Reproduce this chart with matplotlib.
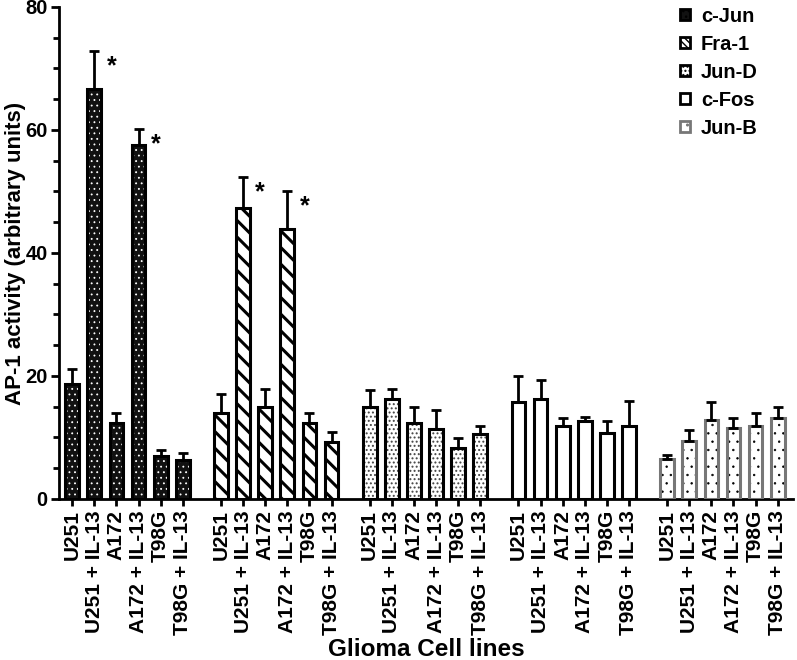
import numpy as np
import matplotlib
matplotlib.use("Agg")
import matplotlib.pyplot as plt
from matplotlib.patches import Patch

plt.rcParams['font.family'] = ['Liberation Sans', 'DejaVu Sans']
plt.rcParams['font.weight'] = 'bold'

cells = ["U251", "U251 + IL-13", "A172", "A172 + IL-13", "T98G", "T98G + IL-13"]
factors = ["c-Jun", "Fra-1", "Jun-D", "c-Fos", "Jun-B"]

cjun = [18.7, 66.6, 12.3, 57.6, 7.0, 6.3]
cjun_err = [2.5, 6.2, 1.6, 2.6, 1.0, 1.2]
fra1 = [13.9, 47.3, 14.9, 43.9, 12.3, 9.3]
fra1_err = [3.1, 5.1, 2.9, 6.2, 1.6, 1.6]
jund = [14.9, 16.2, 12.3, 11.3, 8.3, 10.6]
jund_err = [2.8, 1.7, 2.6, 3.2, 1.6, 1.2]
cfos = [15.8, 16.2, 11.9, 12.6, 10.8, 11.9]
cfos_err = [4.2, 3.2, 1.2, 0.7, 1.9, 4.1]
junb = [6.5, 9.5, 12.9, 11.5, 11.9, 13.2]
junb_err = [0.7, 1.7, 2.8, 1.7, 2.1, 1.7]

values = [cjun, fra1, jund, cfos, junb]
errors = [cjun_err, fra1_err, jund_err, cfos_err, junb_err]

# significant bars (factor index, cell index)
stars = [(0, 1), (0, 3), (1, 1), (1, 3)]

styles = [
    dict(face='#111111', hatch='...', leg='...', hc='white', edge='black', hlw=0.6),
    dict(face='white', hatch='\\\\', leg='\\\\\\\\\\', hc='black', edge='black', hlw=2.2),
    dict(face='white', hatch='....', leg='....', hc='#444444', edge='black', hlw=0.9),
    dict(face='white', hatch='', leg='', hc='black', edge='black', hlw=1.0),
    dict(face='white', hatch='..', leg='..', hc='black', edge='#777777', hlw=0.5),
]

fig = plt.figure(figsize=(7.97, 6.6), dpi=100)
ax = fig.add_axes([0.074, 0.244, 0.921, 0.7455])

group_step = 6.727
width = 0.62
ticks = []
handles = []
for g in range(len(factors)):
    x = g * group_step + np.arange(len(cells))
    ticks.extend(x)
    st = styles[g]
    with plt.rc_context({'hatch.linewidth': st['hlw']}):
        ax.bar(x, values[g], width, color=st['face'], hatch=st['hatch'],
               edgecolor=st['hc'], linewidth=0, zorder=2)
        handles.append(Patch(facecolor=st['face'], edgecolor=st['edge'], hatch=st['leg'],
                             linewidth=2, label=factors[g]))
    ax.bar(x, values[g], width, fill=False, edgecolor=st['edge'],
           linewidth=2.2, zorder=3)
    ax.errorbar(x, values[g], yerr=[np.zeros(6), errors[g]], fmt='none',
                ecolor='black', elinewidth=2, capsize=3.5, capthick=2, zorder=4)

for g, i in stars:
    x = g * group_step + i
    ax.text(x + 0.55, values[g][i] + errors[g][i] - 2.5, '*', fontsize=18,
            fontweight='bold', ha='left', va='center')

ax.set_xlim(-0.6, 32.6)
ax.set_ylim(0, 80)
ax.set_yticks([0, 20, 40, 60, 80])
ax.set_yticks(np.arange(0, 81, 5), minor=True)
ax.set_xticks(ticks)
ax.set_xticklabels(cells * len(factors), rotation=90, fontsize=15, fontweight='bold')
ax.tick_params(axis='y', labelsize=14.5, width=2, length=6, pad=2)
ax.tick_params(axis='y', which='minor', width=2, length=4)
ax.tick_params(axis='x', width=2, length=5, pad=3)
for s in ['top', 'right']:
    ax.spines[s].set_visible(False)
for s in ['left', 'bottom']:
    ax.spines[s].set_linewidth(2)

ax.set_ylabel('AP-1 activity (arbitrary units)', fontsize=16, fontweight='bold')
ax.yaxis.set_label_coords(-0.045, 0.5)
ax.set_xlabel('Glioma Cell lines', fontsize=17.5, fontweight='bold')
ax.xaxis.label.set_va('center')
ax.xaxis.set_label_coords(0.5, -0.305)

leg = fig.legend(handles=handles, loc='upper left', frameon=False, fontsize=14.5,
                 handlelength=0.5, handleheight=0.5, labelspacing=0.45,
                 handletextpad=0.55, borderpad=0, borderaxespad=0,
                 bbox_to_anchor=(0.853, 0.99))
for t in leg.get_texts():
    t.set_fontweight('bold')

fig.savefig('out.png', dpi=100)
